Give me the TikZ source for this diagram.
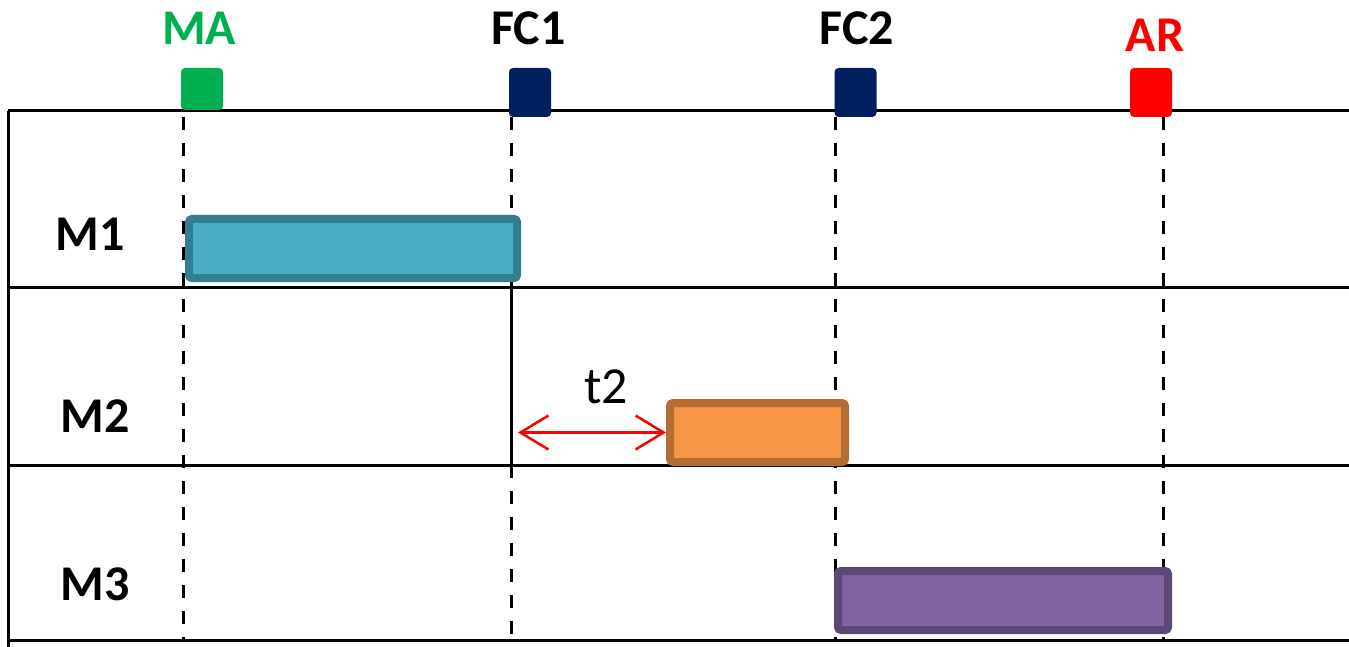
\documentclass[tikz,border=0pt]{standalone}
\usepackage{fontspec}
\setmainfont{Carlito}
\usetikzlibrary{arrows.meta}
\definecolor{magreen}{HTML}{00B050}
\definecolor{fcnavy}{HTML}{002060}
\definecolor{arred}{HTML}{FF0000}
\definecolor{cyanfill}{HTML}{4BACC6}
\definecolor{cyanline}{HTML}{357D91}
\definecolor{orfill}{HTML}{F79646}
\definecolor{orline}{HTML}{B66D31}
\definecolor{pufill}{HTML}{8064A2}
\definecolor{puline}{HTML}{5C4776}
\tikzset{
  gridline/.style={line width=3pt, black},
  guide/.style={line width=3pt, black, dash pattern=on 13pt off 13pt},
  marker/.style={rounded corners=4pt, inner sep=0pt},
  toplabel/.style={font=\fontsize{50}{60}\selectfont\bfseries, anchor=base, inner sep=0pt},
  rowlabel/.style={font=\fontsize{50}{60}\selectfont\bfseries, anchor=base, inner sep=0pt},
  bar/.style={draw, line width=8pt, rounded corners=3pt, inner sep=0pt, minimum height=59pt},
}
\begin{document}
\begin{tikzpicture}[x=1pt,y=-1pt]
\useasboundingbox (0,0) rectangle (1349,647);
% grid
\coordinate (tl) at (8,111);
\coordinate (tr) at (1349,111);
\coordinate (l1) at (8,287);
\coordinate (r1) at (1349,287);
\coordinate (l2) at (8,465);
\coordinate (r2) at (1349,465);
\coordinate (l3) at (8,640);
\coordinate (r3) at (1349,640);
\coordinate (lb) at (8,647);
\draw[gridline] (tl) -- (tr);
\draw[gridline] (l1) -- (r1);
\draw[gridline] (l2) -- (r2);
\draw[gridline] (l3) -- (r3);
\draw[gridline] (tl) -- (lb);
% guides
\coordinate (ma0) at (183,117); \coordinate (ma1) at (183,640);
\coordinate (fa0) at (511,117); \coordinate (fa1) at (511,287);
\coordinate (fa2) at (511,465); \coordinate (fa3) at (511,640);
\coordinate (fb0) at (835,117); \coordinate (fb1) at (835,640);
\coordinate (ar0) at (1163,117); \coordinate (ar1) at (1163,640);
\draw[guide] (ma0) -- (ma1);
\draw[guide] (fa0) -- (fa1);
\draw[gridline] (fa1) -- (fa2);
\draw[guide] (fa2) -- (fa3);
\draw[guide] (fb0) -- (fb1);
\draw[guide] (ar0) -- (ar1);
% markers
\node[marker, fill=magreen, minimum width=42pt, minimum height=42pt] (mam) at (202,89) {};
\node[marker, fill=fcnavy, minimum width=42pt, minimum height=49pt] (fam) at (530,92.5) {};
\node[marker, fill=fcnavy, minimum width=42pt, minimum height=49pt] (fbm) at (855.5,92.5) {};
\node[marker, fill=arred, minimum width=42pt, minimum height=49pt] (arm) at (1151,92.5) {};
% top labels
\node[toplabel, text=magreen] (mal) at (199,45) {MA};
\node[toplabel] (fal) at (528.5,45) {FC1};
\node[toplabel] (fbl) at (857,45) {FC2};
\node[toplabel, text=arred] (arl) at (1155,52) {AR};
% row labels
\node[rowlabel] (m1) at (90.5,250) {M1};
\node[rowlabel] (m2) at (95,432) {M2};
\node[rowlabel] (m3) at (95,600) {M3};
% bars
\node[bar, fill=cyanfill, draw=cyanline, minimum width=328pt] (b1) at (353,248.5) {};
\node[bar, fill=orfill, draw=orline, minimum width=175pt] (b2) at (757.5,432.5) {};
\node[bar, fill=pufill, draw=puline, minimum width=330pt] (b3) at (1003,600.5) {};
% t2 arrow
\coordinate (t2s) at (518,432.5);
\draw[arred, line width=2.5pt, {Straight Barb[length=28pt,width=34pt]}-{Straight Barb[length=28pt,width=34pt]}] (t2s) -- (b2.west);
\node[font=\fontsize{52}{60}\selectfont, anchor=base, inner sep=0pt] (t2) at (606,403) {t2};
\end{tikzpicture}
\end{document}
